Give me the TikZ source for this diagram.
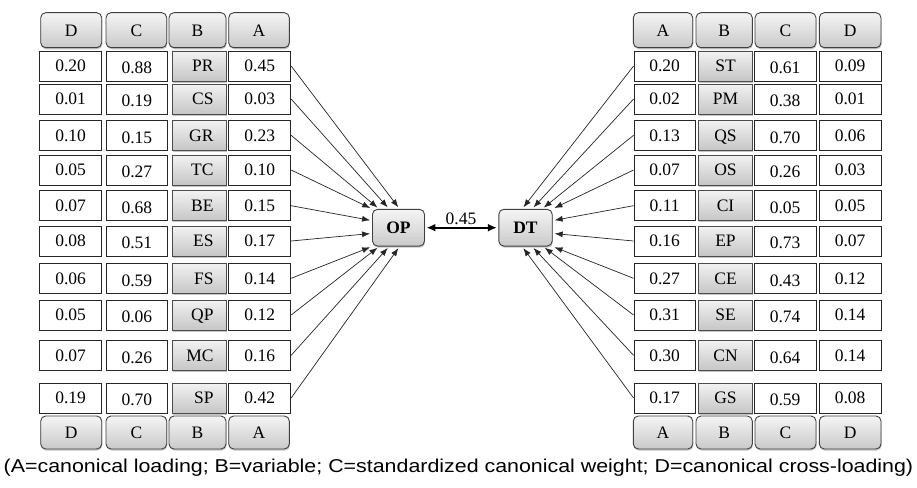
\documentclass[tikz,border=0pt]{standalone}
\usepackage{fontspec}
\usepackage{graphicx}
\setmainfont{Liberation Serif}
\newfontfamily\capfont{Liberation Sans}
\usetikzlibrary{shadows,arrows.meta,calc}
\begin{document}
\begin{tikzpicture}[x=1pt,y=-1pt,
  txt/.style={font=\fontsize{17.5}{20}\selectfont, text height=11.8pt, text depth=0pt},
  cell/.style={txt, draw=black!85, line width=0.9pt, fill=white, inner sep=0pt, minimum height=30pt},
  ccell/.style={cell, text height=15.4pt},
  shad/.style={drop shadow={shadow xshift=0.6pt, shadow yshift=-1.6pt, opacity=0.45}},
  var/.style={txt, shad, draw=black!70, line width=0.9pt, inner sep=0pt, minimum height=30pt, minimum width=54pt, top color=gray!10, bottom color=gray!45},
  hdr/.style={txt, shad, draw=black!75, line width=0.9pt, rounded corners=5pt, inner sep=0pt, top color=gray!8, bottom color=gray!42},
  hub/.style={hdr, font=\fontsize{17.5}{20}\selectfont\bfseries, minimum width=52pt, minimum height=36.7pt},
  arr/.style={draw=black!85, line width=0.7pt, shorten >=2pt, -{Latex[length=8pt,width=6pt]}},
]
\fill[white] (0,0) rectangle (917,487);
\useasboundingbox (0,0) rectangle (917,487);

% headers left
\foreach \n/\t/\x/\w in {D/D/71.2/61, C/C/136.35/60.7, B/B/197.5/57, A/A/259/60.6}{
  \node[hdr, minimum width=\w pt, minimum height=35pt] (LT\n) at (\x,30.2) {\t};
  \node[hdr, minimum width=\w pt, minimum height=33pt] (LU\n) at (\x,432.5) {\t};
}
% headers right
\foreach \n/\t/\x/\w in {A/A/663/59.4, B/B/724.15/56.3, C/C/785.5/61, D/D/850.15/61.7}{
  \node[hdr, minimum width=\w pt, minimum height=35pt] (RT\n) at (\x,30.2) {\t};
  \node[hdr, minimum width=\w pt, minimum height=33pt] (RU\n) at (\x,432.5) {\t};
}

% hubs
\node[hub] (OP) at (398.5,227.7) {OP};
\node[hub, minimum width=53.4pt] (DT) at (525.5,227.7) {DT};

% target coordinates on OP
\coordinate (o1) at ($(OP.north west)+(27.5,0)$);
\coordinate (o2) at ($(OP.north west)+(17,0)$);
\coordinate (o3) at ($(OP.north west)+(7,0)$);
\coordinate (o4) at (OP.north west);
\coordinate (o5) at ($(OP.north west)+(0,11.7)$);
\coordinate (o6) at ($(OP.north west)+(0,24.5)$);
\coordinate (o7) at (OP.south west);
\coordinate (o8) at ($(OP.south west)+(7,0)$);
\coordinate (o9) at ($(OP.south west)+(17,0)$);
\coordinate (o10) at ($(OP.south west)+(27.5,0)$);
% target coordinates on DT
\coordinate (d1) at ($(DT.north east)+(-30.5,0)$);
\coordinate (d2) at ($(DT.north east)+(-20.5,0)$);
\coordinate (d3) at ($(DT.north east)+(-10.5,0)$);
\coordinate (d4) at (DT.north east);
\coordinate (d5) at ($(DT.north east)+(0,11.7)$);
\coordinate (d6) at ($(DT.north east)+(0,24.5)$);
\coordinate (d7) at (DT.south east);
\coordinate (d8) at ($(DT.south east)+(-9.5,0)$);
\coordinate (d9) at ($(DT.south east)+(-20.5,0)$);
\coordinate (d10) at ($(DT.south east)+(-30.5,0)$);

% left table rows
\foreach \i/\d/\c/\b/\a/\y in {1/0.20/0.88/PR/0.45/66, 2/0.01/0.19/CS/0.03/99, 3/0.10/0.15/GR/0.23/135.3,
  4/0.05/0.27/TC/0.10/170, 5/0.07/0.68/BE/0.15/205.7, 6/0.08/0.51/ES/0.17/241, 7/0.06/0.59/FS/0.14/278.3,
  8/0.05/0.06/QP/0.12/315, 9/0.07/0.26/MC/0.16/355.3, 10/0.19/0.70/SP/0.42/398}{
  \node[cell, minimum width=62.2pt] (LD\i) at (70.6,\y) {\d};
  \node[ccell, minimum width=61.7pt] (LC\i) at (136.85,\y) {\c};
  \node[var, text width=29pt, align=right] (LB\i) at (199,\y) {\b};
  \node[cell, minimum width=62pt] (LA\i) at (259.7,\y) {\a};
  \draw[arr] (LA\i.east) -- (o\i);
}

% right table rows
\foreach \i/\a/\b/\c/\d/\y in {1/0.20/ST/0.61/0.09/66, 2/0.02/PM/0.38/0.01/99, 3/0.13/QS/0.70/0.06/135.3,
  4/0.07/OS/0.26/0.03/170, 5/0.11/CI/0.05/0.05/205.7, 6/0.16/EP/0.73/0.07/241, 7/0.27/CE/0.43/0.12/278.3,
  8/0.31/SE/0.74/0.14/315, 9/0.30/CN/0.64/0.14/355.3, 10/0.17/GS/0.59/0.08/398}{
  \node[cell, minimum width=61.3pt] (RA\i) at (664.65,\y) {\a};
  \node[var, minimum width=53.6pt] (RB\i) at (725.5,\y) {\b};
  \node[ccell, minimum width=61.7pt, xshift=3pt, text width=61.7pt, align=center] (RC\i) at (782.15,\y) {\c};
  \node[cell, minimum width=61.7pt] (RD\i) at (850.15,\y) {\d};
  \draw[arr] (RA\i.west) -- (d\i);
}

% central link
\draw[line width=2pt, shorten <=1.5pt, shorten >=1.5pt, {Latex[length=9pt,width=8pt]}-{Latex[length=9pt,width=8pt]}] (OP.east) -- (DT.west);
\node[txt] (w) at (461,219) {0.45};

% caption
\node (cap) at (458.5,468) {\capfont\fontsize{18.6}{22}\selectfont\scalebox{1.15}[1]{(A=canonical loading; B=variable; C=standardized canonical weight; D=canonical cross-loading)}};
\end{tikzpicture}
\end{document}
